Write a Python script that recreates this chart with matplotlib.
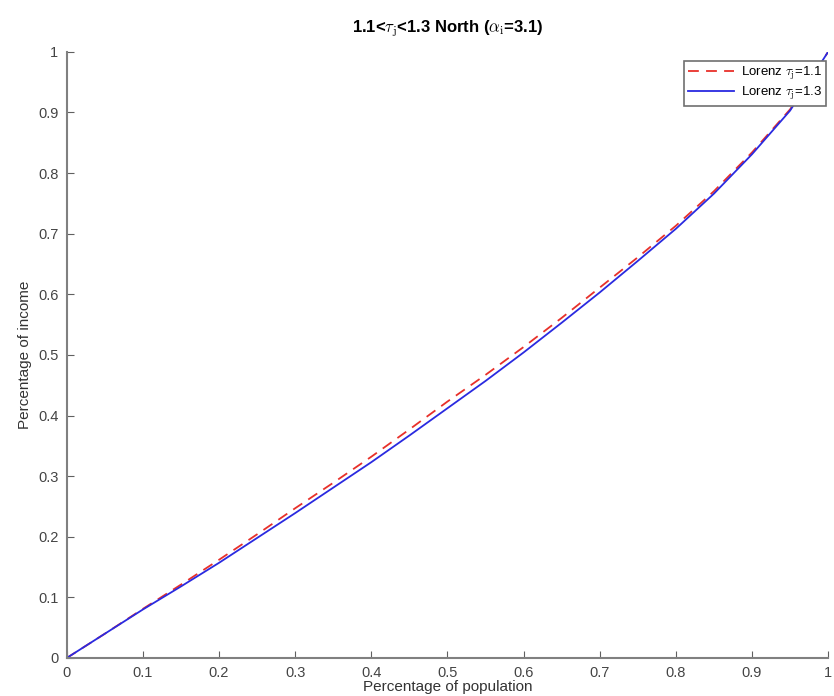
import matplotlib
matplotlib.use('Agg')
import matplotlib.pyplot as plt

plt.rcParams['font.family'] = ['Liberation Sans', 'DejaVu Sans']
plt.rcParams['mathtext.fontset'] = 'cm'

# population share
p = [0, 0.05, 0.1, 0.15, 0.2, 0.25, 0.3, 0.35, 0.4, 0.45, 0.5,
     0.55, 0.6, 0.65, 0.7, 0.75, 0.8, 0.85, 0.9, 0.95, 1.0]
# Lorenz tau_j = 1.1 (red dashed)
L11 = [0, 0.04, 0.081, 0.121, 0.162, 0.204, 0.247, 0.289, 0.332, 0.377, 0.423,
       0.467, 0.513, 0.561, 0.611, 0.661, 0.713, 0.77, 0.834, 0.905, 1.0]
# Lorenz tau_j = 1.3 (blue solid)
L13 = [0, 0.04, 0.08, 0.118, 0.157, 0.198, 0.239, 0.281, 0.323, 0.367, 0.412,
       0.457, 0.504, 0.553, 0.603, 0.655, 0.708, 0.766, 0.831, 0.903, 1.0]

ticks = [0, 0.1, 0.2, 0.3, 0.4, 0.5, 0.6, 0.7, 0.8, 0.9, 1]
ticklabels = ['0', '0.1', '0.2', '0.3', '0.4', '0.5', '0.6', '0.7', '0.8', '0.9', '1']

fig = plt.figure(figsize=(8.34, 6.96), dpi=100)
ax = fig.add_axes([0.080, 0.0546, 0.913, 0.871])

ax.plot(p, L11, color='#e8302a', linestyle=(0, (6, 4)), linewidth=1.3,
        label=r'Lorenz $\tau_{\rm j}$=1.1')
ax.plot(p, L13, color='#2a2ae0', linewidth=1.3,
        label=r'Lorenz $\tau_{\rm j}$=1.3')

ax.set_xlim(0, 1)
ax.set_ylim(0, 1)
ax.set_xticks(ticks)
ax.set_xticklabels(ticklabels)
ax.set_yticks(ticks)
ax.set_yticklabels(ticklabels)
ax.spines['top'].set_visible(False)
ax.spines['right'].set_visible(False)
for s in ['left', 'bottom']:
    ax.spines[s].set_color('#808080')
    ax.spines[s].set_linewidth(1.5)
ax.tick_params(direction='in', length=5, color='#606060', labelcolor='#444444',
               labelsize=10.5, pad=6)

ax.set_xlabel('Percentage of population', fontsize=11, color='#333333', labelpad=0)
ax.set_ylabel('Percentage of income', fontsize=11, color='#333333', labelpad=4)
ax.set_title(r'1.1<$\tau_{\rm j}$<1.3 North ($\alpha_{\rm i}$=3.1)', fontsize=12,
             fontweight='bold', pad=14)

leg = ax.legend(loc='upper right', bbox_to_anchor=(0.997, 0.985), fontsize=9.5,
                fancybox=False, framealpha=1, edgecolor='#707070',
                handlelength=3.5, borderpad=0.3, labelspacing=0.2,
                handletextpad=0.5, borderaxespad=0)
leg.get_frame().set_linewidth(1.2)

fig.savefig('out.png', dpi=100)
